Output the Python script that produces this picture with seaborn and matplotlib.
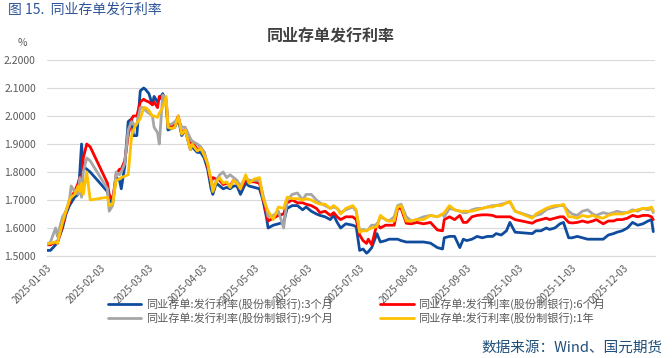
import matplotlib
matplotlib.use("Agg")
import matplotlib.pyplot as plt
import matplotlib.dates as mdates
import seaborn as sns
import pandas as pd

sns.set_theme(style="white")
plt.rcParams['font.family'] = ['Noto Sans CJK SC', 'DejaVu Sans']

dates = ["2025-01-03","2025-01-05","2025-01-08","2025-01-09","2025-01-12","2025-01-14","2025-01-16","2025-01-17",
"2025-01-19","2025-01-21","2025-01-22","2025-01-23","2025-01-24","2025-01-26","2025-01-28","2025-02-07",
"2025-02-08","2025-02-10","2025-02-12","2025-02-14","2025-02-15","2025-02-17","2025-02-19","2025-02-21",
"2025-02-22","2025-02-24","2025-02-26","2025-02-28","2025-03-01","2025-03-03","2025-03-05","2025-03-06",
"2025-03-08","2025-03-09","2025-03-11","2025-03-13","2025-03-14","2025-03-16","2025-03-18","2025-03-20",
"2025-03-22","2025-03-24","2025-03-27","2025-03-28","2025-03-31","2025-04-02","2025-04-04","2025-04-06",
"2025-04-08","2025-04-09","2025-04-11","2025-04-13","2025-04-15","2025-04-17","2025-04-19","2025-04-21",
"2025-04-23","2025-04-25","2025-04-28","2025-04-30","2025-05-03","2025-05-06","2025-05-08","2025-05-10",
"2025-05-11","2025-05-14","2025-05-17","2025-05-20","2025-05-22","2025-05-25","2025-05-28","2025-05-31",
"2025-06-02","2025-06-05","2025-06-08","2025-06-10","2025-06-13","2025-06-16","2025-06-18","2025-06-20",
"2025-06-22","2025-06-25","2025-06-29","2025-07-01","2025-07-03","2025-07-05","2025-07-07","2025-07-08",
"2025-07-10","2025-07-13","2025-07-15","2025-07-18","2025-07-20","2025-07-23","2025-07-25","2025-07-27",
"2025-07-30","2025-08-02","2025-08-05","2025-08-09","2025-08-13","2025-08-17","2025-08-20","2025-08-21",
"2025-08-24","2025-08-27","2025-08-30","2025-09-01","2025-09-03","2025-09-06","2025-09-09","2025-09-12",
"2025-09-15","2025-09-18","2025-09-20","2025-09-23","2025-09-26","2025-09-28","2025-10-01","2025-10-11",
"2025-10-13","2025-10-16","2025-10-19","2025-10-21","2025-10-24","2025-10-27","2025-10-29","2025-11-01",
"2025-11-03","2025-11-06","2025-11-09","2025-11-12","2025-11-15","2025-11-17","2025-11-21","2025-11-24",
"2025-11-27","2025-11-29","2025-12-02","2025-12-05","2025-12-08","2025-12-11","2025-12-14","2025-12-17",
"2025-12-19","2025-12-20"]

rate_3m = [1.52,1.52,1.54,1.55,1.60,1.65,1.68,1.69,1.71,1.72,1.80,1.90,1.82,1.81,1.80,1.73,
1.70,1.69,1.78,1.77,1.74,1.82,1.98,1.99,1.93,1.93,2.09,2.10,2.095,2.08,2.04,2.07,
2.05,2.06,2.08,2.05,1.95,1.955,1.96,1.99,1.93,1.95,1.88,1.89,1.87,1.87,1.85,1.81,
1.74,1.72,1.76,1.75,1.74,1.745,1.74,1.75,1.75,1.72,1.76,1.75,1.745,1.74,1.70,1.64,
1.60,1.61,1.615,1.62,1.67,1.68,1.68,1.665,1.675,1.66,1.65,1.645,1.64,1.63,1.645,1.62,
1.60,1.615,1.61,1.605,1.52,1.525,1.51,1.515,1.53,1.58,1.55,1.555,1.56,1.56,1.56,1.555,
1.55,1.55,1.55,1.55,1.546,1.53,1.525,1.565,1.57,1.57,1.53,1.56,1.555,1.56,1.57,1.565,
1.57,1.57,1.58,1.575,1.59,1.62,1.585,1.58,1.59,1.59,1.60,1.595,1.60,1.615,1.62,1.565,
1.565,1.57,1.565,1.56,1.56,1.56,1.56,1.575,1.58,1.585,1.59,1.60,1.62,1.61,1.615,1.625,
1.63,1.587]

rate_6m = [1.54,1.54,1.55,1.545,1.61,1.66,1.69,1.71,1.73,1.76,1.78,1.77,1.85,1.90,1.89,1.76,
1.72,1.70,1.79,1.81,1.81,1.84,1.93,1.99,2.00,2.00,2.05,2.06,2.055,2.05,2.04,2.05,
2.03,2.07,2.06,2.05,1.97,1.96,1.97,2.00,1.94,1.95,1.89,1.91,1.88,1.885,1.87,1.82,
1.76,1.78,1.775,1.77,1.755,1.76,1.75,1.77,1.76,1.74,1.77,1.765,1.765,1.76,1.71,1.65,
1.625,1.635,1.645,1.65,1.69,1.70,1.69,1.69,1.685,1.68,1.67,1.655,1.66,1.645,1.655,1.64,
1.63,1.64,1.64,1.63,1.575,1.555,1.545,1.56,1.54,1.615,1.60,1.61,1.61,1.61,1.67,1.67,
1.617,1.615,1.62,1.615,1.62,1.593,1.59,1.63,1.64,1.63,1.645,1.62,1.62,1.64,1.645,1.647,
1.647,1.645,1.64,1.64,1.64,1.64,1.63,1.617,1.625,1.63,1.635,1.63,1.635,1.64,1.64,1.62,
1.618,1.62,1.625,1.62,1.625,1.63,1.615,1.625,1.625,1.63,1.63,1.635,1.645,1.64,1.645,1.645,
1.64,1.63]

rate_9m = [1.54,1.55,1.60,1.57,1.64,1.66,1.70,1.75,1.73,1.72,1.78,1.71,1.80,1.85,1.84,1.74,
1.66,1.68,1.80,1.79,1.80,1.83,1.95,1.98,1.97,1.97,2.03,2.03,2.02,2.01,2.00,1.96,
1.94,1.90,2.075,2.06,1.97,1.97,1.98,1.99,1.96,1.96,1.92,1.91,1.90,1.89,1.87,1.83,
1.77,1.74,1.77,1.79,1.80,1.78,1.79,1.78,1.77,1.75,1.78,1.77,1.77,1.77,1.72,1.67,
1.64,1.645,1.66,1.60,1.70,1.72,1.725,1.70,1.72,1.72,1.70,1.69,1.68,1.67,1.675,1.67,
1.655,1.665,1.675,1.66,1.59,1.595,1.59,1.595,1.61,1.61,1.64,1.63,1.625,1.64,1.68,1.685,
1.64,1.625,1.63,1.64,1.645,1.64,1.65,1.64,1.67,1.665,1.66,1.655,1.655,1.665,1.67,1.67,
1.675,1.68,1.68,1.685,1.69,1.693,1.66,1.64,1.645,1.65,1.665,1.67,1.675,1.68,1.68,1.66,
1.65,1.645,1.66,1.665,1.65,1.645,1.655,1.65,1.655,1.66,1.655,1.655,1.665,1.66,1.67,1.665,
1.67,1.655]

rate_1y = [1.545,1.545,1.55,1.545,1.62,1.66,1.70,1.71,1.72,1.75,1.73,1.76,1.72,1.80,1.70,1.71,
1.68,1.685,1.77,1.775,1.78,1.785,1.79,1.93,1.95,1.975,1.99,2.03,2.03,2.02,2.00,2.00,
1.995,2.01,2.03,2.07,1.96,1.955,1.96,2.00,1.935,1.95,1.88,1.90,1.875,1.885,1.86,1.83,
1.77,1.73,1.765,1.78,1.76,1.765,1.745,1.77,1.76,1.74,1.79,1.76,1.775,1.78,1.71,1.675,
1.66,1.63,1.675,1.67,1.71,1.705,1.705,1.70,1.705,1.70,1.69,1.685,1.685,1.67,1.68,1.67,
1.65,1.67,1.68,1.665,1.585,1.59,1.59,1.595,1.60,1.605,1.645,1.63,1.625,1.625,1.675,1.68,
1.625,1.625,1.63,1.63,1.645,1.64,1.65,1.655,1.68,1.665,1.66,1.66,1.66,1.66,1.665,1.67,
1.675,1.675,1.68,1.68,1.69,1.695,1.66,1.635,1.65,1.66,1.67,1.675,1.68,1.68,1.685,1.64,
1.64,1.635,1.645,1.64,1.645,1.64,1.635,1.645,1.65,1.65,1.65,1.655,1.66,1.665,1.67,1.67,
1.675,1.66]

series_names = ["同业存单:发行利率(股份制银行):3个月",
                "同业存单:发行利率(股份制银行):6个月",
                "同业存单:发行利率(股份制银行):9个月",
                "同业存单:发行利率(股份制银行):1年"]
colors = ["#0f4c9e", "#ff0000", "#a6a6a6", "#ffc000"]
tick_dates = ["2025-01-03","2025-02-03","2025-03-03","2025-04-03","2025-05-03","2025-06-03",
              "2025-07-03","2025-08-03","2025-09-03","2025-10-03","2025-11-03","2025-12-03"]
y_ticks = [1.5, 1.6, 1.7, 1.8, 1.9, 2.0, 2.1, 2.2]

dt = pd.to_datetime(dates)
frames = []
for name, vals in zip(series_names, [rate_3m, rate_6m, rate_9m, rate_1y]):
    frames.append(pd.DataFrame({"date": dt, "rate": vals, "series": name}))
df = pd.concat(frames, ignore_index=True)

fig = plt.figure(figsize=(6.72, 3.58), dpi=100)
ax = fig.add_axes([47/672, 102/358, (655-47)/672, (256-60)/358])

sns.lineplot(data=df, x="date", y="rate", hue="series", hue_order=series_names,
             palette=colors, linewidth=2.0, ax=ax, legend=False)

ax.set_xlim(pd.Timestamp("2025-01-03"), pd.Timestamp("2025-12-21"))
ax.set_ylim(1.5, 2.2)
ax.set_yticks(y_ticks)
ax.set_yticklabels([f"{v:.4f}" for v in y_ticks])
ax.set_xticks(pd.to_datetime(tick_dates))
ax.set_xticklabels(tick_dates, rotation=45, ha="right", rotation_mode="anchor")
ax.xaxis.set_major_formatter(mdates.DateFormatter("%Y-%m-%d"))
for lab in ax.get_xticklabels():
    lab.set_rotation(45); lab.set_ha("right"); lab.set_rotation_mode("anchor")
ax.tick_params(axis="x", labelsize=7, colors="#595959", length=3, width=0.8, pad=2, color="#d9d9d9")
ax.tick_params(axis="y", labelsize=7.5, colors="#595959", length=0, pad=8)
ax.grid(axis="y", color="#d9d9d9", linewidth=0.8)
ax.set_axisbelow(True)
for s in ["top", "right", "left"]:
    ax.spines[s].set_visible(False)
ax.spines["bottom"].set_color("#d9d9d9")
ax.spines["bottom"].set_linewidth(0.8)
ax.set_xlabel(""); ax.set_ylabel("")

lines = ax.get_lines()[:4]
order = [0, 2, 1, 3]
leg = fig.legend([lines[i] for i in order], [series_names[i] for i in order],
                 ncol=2, loc="upper left", bbox_to_anchor=(108/672, 1 - 298/358),
                 frameon=False, fontsize=8, handlelength=3.0, columnspacing=4.3,
                 labelspacing=0.25, handletextpad=0.4, borderpad=0, borderaxespad=0)
for t in leg.get_texts():
    t.set_color("#595959")

fig.text(8/672, 1 - 10/358, "图 15.  同业存单发行利率", fontsize=10, color="#2e5597",
         va="center", ha="left")
fig.text(331/672, 1 - 35/358, "同业存单发行利率", fontsize=11.5, color="#404040",
         fontweight="bold", va="center", ha="center")
fig.text(22/672, 1 - 43/358, "%", fontsize=7.5, color="#595959", va="center", ha="center")
fig.text(663/672, 1 - 348/358, "数据来源：Wind、国元期货", fontsize=10.5, color="#1f4e79",
         va="center", ha="right")

fig.savefig("out.png", dpi=100)
